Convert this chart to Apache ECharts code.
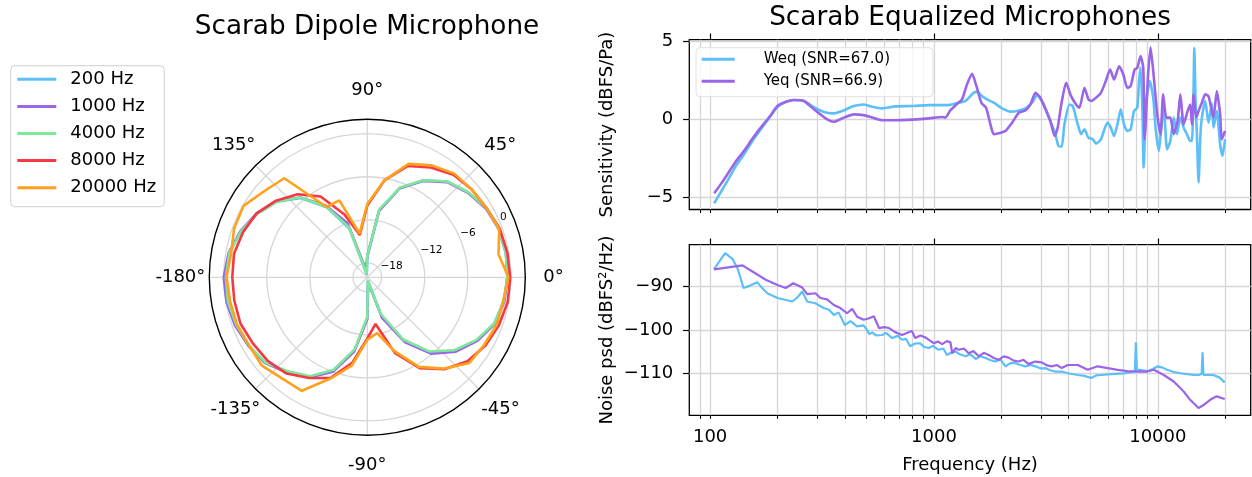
<!doctype html>
<html lang="en">
<head>
    <meta charset="UTF-8">
    <title>Scarab microphones</title>
    <script src="https://cdn.jsdelivr.net/npm/echarts@6/dist/echarts.min.js"></script>
    <style>
        html, body { margin: 0; padding: 0; background: #fff; }
        #chart { width: 1252px; height: 477px; }
    </style>
</head>
<body>
<div id="chart"></div>
<script>
    //=================== polar: dipole pattern (dB) ==================
    var angles = [-180, -170, -160, -150, -140, -130, -120, -110, -100, -90, -80, -70, -60, -50, -40, -30, -20, -10,
        0, 10, 20, 30, 40, 50, 60, 70, 80, 90, 100, 110, 120, 130, 140, 150, 160, 170];
    var polarNames = ['200 Hz', '1000 Hz', '4000 Hz', '8000 Hz', '20000 Hz'];
    var gain200 = [-0.2, -0.3, -0.5, -0.9, -1.5, -2.8, -4.0, -6.2, -9.6, -14.3, -19.5, -14.3, -9.9, -6.4, -4.1, -2.4, -1.2, -0.7,
        -0.5, -0.4, -0.5, -0.8, -1.6, -2.6, -4.4, -6.8, -10.6, -17.2, -19.6, -12.8, -8.8, -5.6, -3.6, -2.3, -1.3, -0.5];
    var gain1000 = [0.0, -0.1, -0.4, -0.9, -1.4, -2.7, -3.9, -6.0, -9.5, -14.2, -19.3, -14.0, -9.6, -6.1, -3.9, -2.3, -1.1, -0.6,
        -0.5, -0.4, -0.5, -0.9, -1.7, -2.7, -4.5, -6.8, -10.6, -17.0, -19.0, -12.0, -8.5, -5.5, -3.5, -2.2, -1.2, -0.4];
    var gain4000 = [-0.3, -0.3, -0.6, -1.0, -1.5, -2.9, -4.1, -6.3, -9.8, -14.5, -19.5, -14.6, -10.0, -6.5, -4.2, -2.5, -1.2, -0.7,
        -0.5, -0.4, -0.5, -0.8, -1.6, -2.6, -4.4, -6.7, -10.4, -17.0, -19.5, -12.6, -8.7, -5.5, -3.6, -2.3, -1.3, -0.5];
    var gain8000 = [-1.2, -1.2, -1.2, -1.6, -1.9, -2.5, -3.8, -5.1, -7.9, -11.5, -13.4, -8.8, -5.4, -3.3, -1.8, -1.0, -0.5, -0.15,
        -0.1, -0.2, -0.35, -0.8, -1.0, -1.35, -2.35, -3.5, -6.3, -10.0, -14.0, -10.7, -7.0, -4.9, -3.4, -2.2, -1.6, -1.15];
    var gain20000 = [-0.4, -0.6, -0.7, -1.0, -0.85, -1.6, -1.75, -5.0, -7.5, -11.3, -12.1, -9.1, -5.6, -3.4, -1.45, -1.2, -0.8, -0.8,
        -0.35, -1.45, -0.45, -0.8, -1.0, -1.15, -2.0, -3.2, -6.3, -9.8, -13.8, -8.6, -8.7, -2.0, -1.3, -0.1, -0.25, -0.75];
    var radiusTicks = [-18, -12, -6, 0];

    //=================== equalized sensitivity (dBFS/Pa) ==================
    var sensFreqW = [104.2, 112, 119.5, 130, 141.7, 155, 168.2, 185, 199.7, 218, 236.7, 262.3, 290.6, 312, 333.4, 356.7, 395.4,
        437.9, 485.3, 529.7, 587, 673, 800, 950, 1166, 1291, 1382, 1505, 1557, 1639, 1726, 1849, 2015, 2197, 2352, 2562, 2743,
        2888, 3093, 3311, 3486, 3600, 3720, 3827, 4028, 4169, 4389, 4542, 4701, 4898, 5121, 5297, 5569, 5957, 6163, 6377, 6599,
        6828, 7063, 7308, 7561, 7824, 8095, 8250, 8376, 8521, 8650, 8850, 9218, 9537, 9803, 10113, 10357, 10635, 10996, 11378,
        11773, 12182, 12605, 13043, 13496, 13965, 14206, 14450, 14550, 14750, 14950, 15208, 15500, 15736, 16282, 16848, 17433,
        17732, 18348, 18985, 19443, 19978];
    var sensW = [-5.36, -4.6, -3.92, -3.0, -2.23, -1.35, -0.64, 0.15, 0.78, 1.10, 1.23, 1.17, 0.78, 0.55, 0.42, 0.38, 0.57,
        0.85, 0.95, 0.80, 0.70, 0.83, 0.85, 0.91, 0.91, 1.06, 1.17, 1.69, 1.75, 1.48, 1.27, 1.06, 0.70, 0.49, 0.53, 0.70, 1.06,
        1.54, 0.95, -0.11, -0.95, -1.70, -1.75, -0.32, 0.95, 0.85, -0.32, -0.95, -0.64, -1.17, -1.27, -1.55, -1.27, -0.21, -0.53,
        -1.06, -0.32, 0.64, -0.32, -0.74, -0.64, 0.53, 0.74, 2.5, 3.3, 1.0, -3.07, 1.0, 2.44, 1.38, -0.74, -2.01, -0.53, 0.74,
        -1.91, -1.38, 0.11, -0.95, 0.11, -0.53, -0.95, -1.38, -1.38, 2.0, 4.56, 1.0, -0.95, -4.03, -1.0, 0.11, 1.17, -0.21, 1.0,
        -0.53, 0.53, -1.59, -2.33, -1.27];
    var sensFreqY = [104.2, 112, 119.5, 130, 141.7, 155, 168.2, 185, 199.7, 218, 236.7, 262.3, 290.6, 312, 333.4, 356.7, 395.4,
        437.9, 485.3, 529.7, 587, 673, 800, 950, 1086, 1124, 1183, 1268, 1335, 1405, 1479, 1540, 1628, 1709, 1787, 1849, 1947,
        2085, 2234, 2394, 2562, 2697, 2840, 2989, 3147, 3311, 3463, 3574, 3700, 3893, 4098, 4314, 4465, 4701, 4898, 5034, 5297,
        5569, 5855, 6121, 6377, 6713, 7015, 7308, 7561, 7877, 8095, 8376, 8610, 8729, 9032, 9281, 9602, 9940, 10286, 10564,
        10921, 11378, 11773, 12265, 12605, 13043, 13589, 13965, 14206, 14450, 14849, 15208, 15736, 16282, 16848, 17433, 17732,
        18348, 18985, 19311, 19978];
    var sensY = [-4.72, -4.1, -3.50, -2.7, -2.01, -1.2, -0.53, 0.2, 0.85, 1.12, 1.23, 1.17, 0.64, 0.30, 0.0, -0.15, 0.11,
        0.32, 0.27, 0.11, -0.06, -0.06, -0.02, 0.06, 0.15, 0.11, 0.57, 0.99, 1.27, 2.23, 2.90, 2.23, 1.06, 0.74, -0.32, -0.95,
        -0.89, -0.74, -0.21, 0.42, 0.57, 0.95, 1.69, 1.38, 0.64, -0.11, -1.06, -0.5, 0.9, 2.33, 1.48, 0.95, 0.74, 2.01, 1.27,
        1.17, 1.38, 1.69, 2.44, 3.18, 2.54, 3.39, 2.86, 2.01, 2.12, 3.18, 3.28, 4.03, 3.28, -1.27, 2.65, 4.60, 2.65, 0.32, -0.95,
        1.59, 0.11, 0.11, -0.95, -0.11, 1.59, -0.32, 0.53, 0.95, -0.32, 1.59, 0.11, 0.53, 1.06, 1.59, 1.48, 0.53, 0.11, 1.80,
        0.32, -1.27, -0.74];

    //=================== noise psd (dBFS^2/Hz) ==================
    var noiseFreqW = [104, 116.6, 125.8, 132.4, 141, 150, 162.6, 170, 180, 200, 232.8, 245, 257.9, 271.4, 295, 321.6, 340,
        356.8, 375, 399.6, 423.5, 453.4, 484.9, 500, 515, 530, 550, 587, 610, 651, 690, 720, 750, 782, 820, 867, 900, 946, 990,
        1048, 1100, 1143, 1190, 1250, 1310, 1385, 1450, 1535, 1610, 1700, 1790, 1883, 1980, 2085, 2200, 2310, 2430, 2560, 2700,
        2835, 3000, 3140, 3300, 3480, 3720, 3960, 4390, 4700, 5030, 5300, 5580, 6180, 7090, 7700, 7900, 7980, 8060, 8280, 9000,
        9500, 10000, 10500, 11000, 11800, 12620, 13500, 14460, 15300, 15700, 15840, 16000, 17000, 17700, 18900, 19900];
    var noiseW = [-86.0, -82.3, -83.6, -85.7, -90.3, -89.8, -89.0, -90.2, -91.5, -92.6, -93.4, -92.5, -91.1, -93.4, -93.8,
        -94.9, -95.3, -96.5, -95.9, -98.8, -97.9, -99.1, -98.9, -99.8, -100.9, -100.5, -101.2, -101.1, -100.6, -101.8, -101.3,
        -102.2, -102.0, -103.7, -103.1, -103.0, -103.8, -104.1, -103.6, -104.5, -104.2, -105.7, -105.2, -104.9, -105.6, -106.0,
        -105.5, -106.6, -106.0, -106.4, -106.9, -107.2, -106.7, -108.3, -107.5, -107.6, -108.0, -108.3, -108.0, -108.3, -108.8,
        -108.7, -109.2, -109.5, -109.5, -109.9, -110.3, -110.5, -111.0, -110.4, -110.3, -110.1, -109.9, -109.6, -109.4, -102.8,
        -109.2, -109.1, -109.4, -108.9, -108.3, -108.6, -109.1, -109.6, -109.9, -110.1, -110.3, -110.3, -110.0, -105.1, -110.3,
        -110.3, -110.3, -110.9, -112.0];
    var noiseFreqY = [104, 139.5, 154.4, 177.2, 200, 217.5, 235.2, 257.9, 271.4, 295.3, 311, 333, 356.8, 381.9, 408.9, 431.4,
        453.4, 484.9, 510, 539, 567.6, 600, 630, 673, 720, 760, 797, 824, 870, 918, 960, 1000, 1040, 1088, 1140, 1185, 1206,
        1250, 1291, 1360, 1430, 1500, 1585, 1670, 1756, 1850, 1945, 2050, 2155, 2270, 2388, 2510, 2646, 2830, 3030, 3200, 3357,
        3540, 3720, 3960, 4390, 4860, 5390, 5970, 6620, 7330, 8120, 9000, 9600, 10630, 11780, 13050, 13950, 15200, 16000,
        17130, 18300, 19900];
    var noiseY = [-86.0, -85.1, -86.5, -88.4, -89.6, -90.3, -89.2, -90.2, -91.7, -91.5, -92.6, -92.9, -94.2, -94.9, -96.1,
        -95.1, -96.9, -97.6, -97.3, -96.8, -99.5, -99.3, -99.5, -100.5, -101.1, -100.6, -100.2, -101.8, -101.2, -101.7, -102.4,
        -103.0, -102.6, -103.2, -102.5, -102.8, -105.3, -104.1, -104.5, -104.2, -105.3, -104.8, -106.0, -105.2, -105.7, -106.4,
        -106.8, -106.0, -106.3, -107.0, -107.2, -106.8, -107.8, -107.2, -107.4, -108.1, -108.3, -108.0, -108.7, -108.0, -108.0,
        -109.1, -108.3, -108.7, -109.1, -109.4, -109.5, -109.5, -109.1, -110.3, -111.8, -114.1, -116.0, -117.9, -117.2, -116.0,
        -115.2, -115.8];

    var freqMajor = [100, 1000, 10000];
    var freqMinor = [90, 200, 300, 400, 500, 600, 700, 800, 900, 2000, 3000, 4000, 5000, 6000, 7000, 8000, 9000, 20000];
    var sensTicks = [-5, 0, 5];
    var noiseTicks = [-110, -100, -90];
    var micNames = ['Weq (SNR=67.0)', 'Yeq (SNR=66.9)'];

    var colors = ['#5cbff9', '#9b65e8', '#7ee79a', '#f53842', '#ffa11c'];
    var gridColor = '#d6d6d6';
    var FONT = 'DejaVu Sans';
    var FS = 18;

    function minus(v) {
        return String(v).replace('-', '\u2212');
    }
    function zip(xs, ys) {
        return xs.map(function (x, i) { return [x, ys[i]]; });
    }
    function polarData(vals) {
        var d = angles.map(function (a, i) { return [vals[i], a]; });
        d.push([vals[0], 180]); // close the loop
        return d;
    }

    // angle labels: echarts aligns them by edge, matplotlib centres them -> pad each one outward
    var angleLabelPad = {
        '0': [0, 0, 0, 26], '45': [0, 0, 16.9, 10.9], '90': [0, 0, 27.7, 0], '135': [0, 5.9, 16.9, 0],
        '-180': [0, 12, 0, 0], '-135': [16.9, 0.9, 0, 0], '-90': [29, 0, 0, 0], '-45': [16.9, 0, 0, 7.9]
    };
    var angleRich = {};
    Object.keys(angleLabelPad).forEach(function (k) {
        angleRich['a' + k.replace('-', 'm')] = {
            padding: angleLabelPad[k], fontSize: FS, color: '#000', fontFamily: FONT
        };
    });

    var chart = echarts.init(document.getElementById('chart'));

    var gains = [gain200, gain1000, gain4000, gain8000, gain20000];
    var series = gains.map(function (g, i) {
        return {
            name: polarNames[i],
            type: 'line',
            coordinateSystem: 'polar',
            polarIndex: 0,
            symbol: 'none',
            color: colors[i],
            lineStyle: { color: colors[i], width: 2.6 },
            data: polarData(g)
        };
    });

    // log-x line plots, two panels
    function xAxisPair(gridIndex, withLabels) {
        var all = freqMinor.concat(freqMajor);
        return [{
            type: 'log', logBase: 10, gridIndex: gridIndex, min: 80.7, max: 26000,
            axisLine: { show: false, onZero: false },
            axisTick: { show: true, customValues: all, length: 3.6, lineStyle: { color: '#000', width: 1.1 } },
            splitLine: { show: true, lineStyle: { color: gridColor, width: 1.3 } },
            axisLabel: {
                show: withLabels, customValues: freqMajor, color: '#000', fontSize: FS, margin: 13, fontFamily: FONT,
                formatter: function (v) { return String(v); }
            },
            name: withLabels ? 'Frequency (Hz)' : '',
            nameLocation: 'middle', nameGap: 41,
            nameTextStyle: { color: '#000', fontSize: FS, fontFamily: FONT }
        }, {
            type: 'log', logBase: 10, gridIndex: gridIndex, min: 80.7, max: 26000,
            axisLine: { show: false, onZero: false },
            axisTick: { show: true, customValues: freqMajor, length: 6.2, lineStyle: { color: '#000', width: 1.2 } },
            splitLine: { show: false },
            axisLabel: { show: false }
        }];
    }
    function yAxis(gridIndex, min, max, ticks, name) {
        return {
            type: 'value', gridIndex: gridIndex, min: min, max: max,
            axisLine: { show: false, onZero: false },
            axisTick: { show: true, customValues: ticks, length: 6.2, lineStyle: { color: '#000', width: 1.2 } },
            splitLine: { show: true, lineStyle: { color: gridColor, width: 1.3 } },
            axisLabel: { customValues: ticks, formatter: minus, color: '#000', fontSize: FS, margin: 16, fontFamily: FONT },
            name: name, nameLocation: 'middle', nameGap: 73,
            nameTextStyle: { color: '#000', fontSize: FS, fontFamily: FONT }
        };
    }

    series.push(
        { name: micNames[0], type: 'line', xAxisIndex: 0, yAxisIndex: 0, symbol: 'none', smooth: 0.2, color: colors[0],
            lineStyle: { color: colors[0], width: 2.6 }, data: zip(sensFreqW, sensW) },
        { name: micNames[1], type: 'line', xAxisIndex: 0, yAxisIndex: 0, symbol: 'none', smooth: 0.2, color: colors[1],
            lineStyle: { color: colors[1], width: 2.6 }, data: zip(sensFreqY, sensY) },
        { name: micNames[0], type: 'line', xAxisIndex: 2, yAxisIndex: 1, symbol: 'none', color: colors[0],
            lineStyle: { color: colors[0], width: 2.2 }, data: zip(noiseFreqW, noiseW) },
        { name: micNames[1], type: 'line', xAxisIndex: 2, yAxisIndex: 1, symbol: 'none', color: colors[1],
            lineStyle: { color: colors[1], width: 2.2 }, data: zip(noiseFreqY, noiseY) }
    );

    var option = {
        animation: false,
        backgroundColor: '#fff',
        textStyle: { fontFamily: FONT },
        title: [{
            text: 'Scarab Dipole Microphone', left: 367, top: 12, textAlign: 'center', padding: 0,
            textStyle: { fontSize: 26.3, fontWeight: 'normal', color: '#000', lineHeight: 30, fontFamily: FONT }
        }, {
            text: 'Scarab Equalized Microphones', left: 970, top: 3, textAlign: 'center', padding: 0,
            textStyle: { fontSize: 26.3, fontWeight: 'normal', color: '#000', lineHeight: 30, fontFamily: FONT }
        }],
        legend: [{
            data: polarNames, orient: 'vertical', left: 10.7, top: 65.7,
            icon: 'rect', itemWidth: 39, itemHeight: 3, itemGap: 7.1,
            padding: [3.6, 8, 9, 6.6],
            borderColor: '#cfcfcf', borderWidth: 1, borderRadius: 4, backgroundColor: 'rgba(255,255,255,0.8)',
            textStyle: { fontSize: FS, color: '#000', lineHeight: 20, padding: [0, 0, 0, 9], fontFamily: FONT }
        }, {
            data: micNames, orient: 'vertical', left: 696, top: 47.7,
            icon: 'rect', itemWidth: 33, itemHeight: 3, itemGap: 5,
            padding: [3, 0, 7, 5.7],
            borderColor: '#e0e0e0', borderWidth: 1, borderRadius: 4, backgroundColor: 'rgba(255,255,255,0.8)',
            textStyle: { fontSize: 15, color: '#000', lineHeight: 17, padding: [0, 43, 0, 24], fontFamily: FONT }
        }],
        polar: [
            { center: [367.3, 277.3], radius: 158 },
            { center: [367.3, 277.3], radius: 158 }
        ],
        angleAxis: [{
            polarIndex: 0, type: 'value', min: -180, max: 180, interval: 45, startAngle: 180, clockwise: false,
            axisLine: { lineStyle: { color: '#000', width: 1.4 } },
            axisTick: { show: false },
            axisLabel: {
                margin: -8, color: '#000', fontSize: FS, fontFamily: FONT, rich: angleRich,
                formatter: function (v) {
                    if (v === 180) return '';
                    return '{a' + String(v).replace('-', 'm') + '|' + v + '\u00b0}';
                }
            },
            splitLine: { lineStyle: { color: gridColor, width: 1.3 } }
        }, {
            polarIndex: 1, type: 'value', min: 0, max: 360, startAngle: 22.5, show: false
        }],
        radiusAxis: [{
            polarIndex: 0, type: 'value', min: -20, max: 2,
            axisLine: { show: false },
            axisTick: { show: false, customValues: radiusTicks },
            axisLabel: { show: false, customValues: radiusTicks },
            splitLine: { show: true, lineStyle: { color: gridColor, width: 1.3 } }
        }, {
            polarIndex: 1, type: 'value', min: -20, max: 2,
            axisLine: { show: false },
            axisTick: { show: false, customValues: radiusTicks },
            splitLine: { show: false },
            axisLabel: {
                customValues: radiusTicks, formatter: minus, margin: 0, color: '#000', fontSize: 10.5,
                align: 'left', verticalAlign: 'bottom', fontFamily: FONT
            }
        }],
        grid: [
            { left: 689.3, top: 39.7, width: 561.4, height: 169.8, show: true, borderColor: '#000', borderWidth: 1.3 },
            { left: 689.3, top: 244.7, width: 561.4, height: 170.6, show: true, borderColor: '#000', borderWidth: 1.3 }
        ],
        xAxis: xAxisPair(0, false).concat(xAxisPair(1, true)),
        yAxis: [
            yAxis(0, -5.75, 5.08, sensTicks, 'Sensitivity (dBFS/Pa)'),
            yAxis(1, -119.56, -80.34, noiseTicks, 'Noise psd (dBFS\u00b2/Hz)')
        ],
        series: series
    };
    chart.setOption(option);
</script>
</body>
</html>
